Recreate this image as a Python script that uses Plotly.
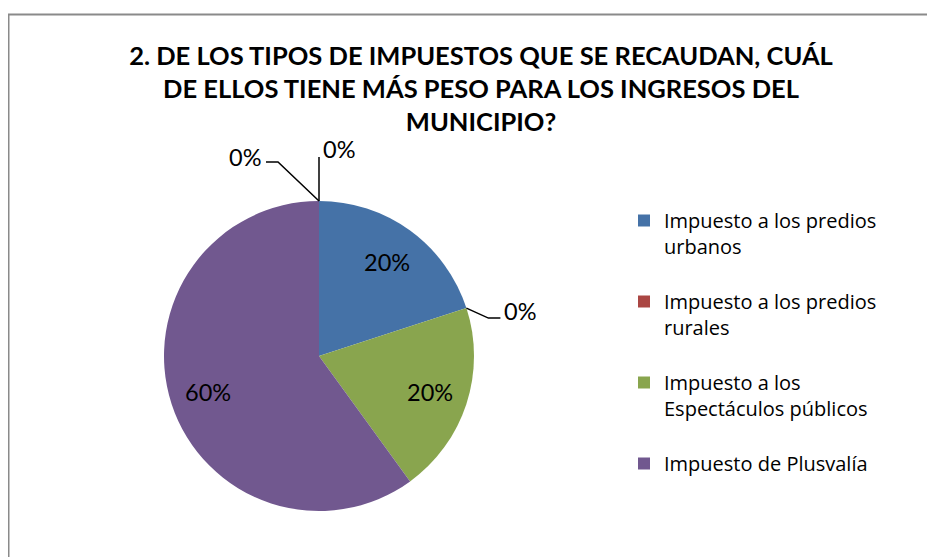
import math
import plotly.graph_objects as go

# Datos
categorias = [
    "Impuesto a los predios<br>urbanos<br>",
    "Impuesto a los predios<br>rurales<br>",
    "Impuesto a los<br>Espectáculos públicos<br>",
    "Impuesto de Plusvalía",
]
valores = [20, 0, 20, 60]
colores = ["#4572A7", "#AA4643", "#89A54E", "#71588F"]
# dos filas vacías al final de la tabla (sin nombre, 0 %)
filas_vacias = [0, 0]

titulo = ("<b>2. DE LOS TIPOS DE IMPUESTOS QUE SE RECAUDAN, CUÁL<br>"
          "DE ELLOS TIENE MÁS PESO PARA LOS INGRESOS DEL<br>MUNICIPIO?</b>")

# la página deja 8 px de margen; la figura se reduce para que quepa
OFF = 8
W, H = 935 - OFF, 557 - OFF
cx, cy, R = 319, 356, 155  # centro y radio del pastel (px de pantalla)


def px(x, y):
    return (x - OFF) / W, 1 - (y - OFF) / H


def punto(pct_acum, r=R):
    a = math.radians(pct_acum / 100 * 360)
    return cx + r * math.sin(a), cy - r * math.cos(a)


fig = go.Figure()
fig.add_trace(go.Pie(
    labels=categorias, values=valores, sort=False, direction="clockwise",
    rotation=0, marker=dict(colors=colores, line=dict(width=0)),
    textinfo="none",
    domain=dict(x=[px(cx - R, 0)[0], px(cx + R, 0)[0]],
                y=[px(0, cy + R)[1], px(0, cy - R)[1]]),
    hoverinfo="label+percent",
))

shapes = []
annots = []
fuente = dict(family="Lato", size=23.5, color="#000000")
total = sum(valores) + sum(filas_vacias)

# porcentajes dentro de los sectores
acum = 0
ceros = []
for v in valores + filas_vacias:
    if v > 0:
        x, y = punto((acum + v / 2) / total * 100, 0.75 * R)
        ax, ay = px(x, y)
        annots.append(dict(x=ax, y=ay, xref="paper", yref="paper",
                           text=f"{v / total:.0%}", showarrow=False,
                           xanchor="center", yanchor="middle", font=fuente))
    acum += v
    if v == 0:
        ceros.append(acum / total * 100)

# desplazamientos de las guías (codo, fin y texto) de cada etiqueta en 0 %
guias = [
    [(22, 10), (34, 10), (36, 3, "left")],
    [(0, -44), (0, -44), (2, -52, "left")],
    [(-41, -39), (-53, -39), (-56, -44, "right")],
]
for pct, g in zip(ceros, guias):
    x0, y0 = punto(pct)
    (dx1, dy1), (dx2, dy2), (tx, ty, al) = g
    pts = [(x0, y0), (x0 + dx1, y0 + dy1), (x0 + dx2, y0 + dy2)]
    path = "M " + " L ".join(f"{px(a, b)[0]},{px(a, b)[1]}" for a, b in pts)
    shapes.append(dict(type="path", xref="paper", yref="paper", path=path,
                       line=dict(color="#000000", width=1.5)))
    ax, ay = px(x0 + tx, y0 + ty)
    annots.append(dict(x=ax, y=ay, xref="paper", yref="paper", text="0%",
                       showarrow=False, xanchor=al, yanchor="middle",
                       font=fuente))

# marco del gráfico
shapes.append(dict(type="rect", xref="paper", yref="paper",
                   x0=px(8.5, 0)[0], x1=1.05, y0=-0.05, y1=px(0, 14.5)[1],
                   line=dict(color="#8a8a8a", width=2), layer="below"))

fig.update_layout(
    width=W, height=H,
    margin=dict(l=0, r=0, t=0, b=0),
    paper_bgcolor="white",
    title=dict(text=titulo, x=px(481, 0)[0], xanchor="center",
               y=1 - 57 / H, yanchor="top",
               font=dict(family="Lato", size=25.5, color="#000000")),
    legend=dict(x=616 / W, y=1 - 193 / H, xanchor="left", yanchor="top",
                valign="top", traceorder="normal",
                font=dict(family="Open Sans", size=20, color="#000000")),
    shapes=shapes,
    annotations=annots,
)

fig.write_html("out.html")
